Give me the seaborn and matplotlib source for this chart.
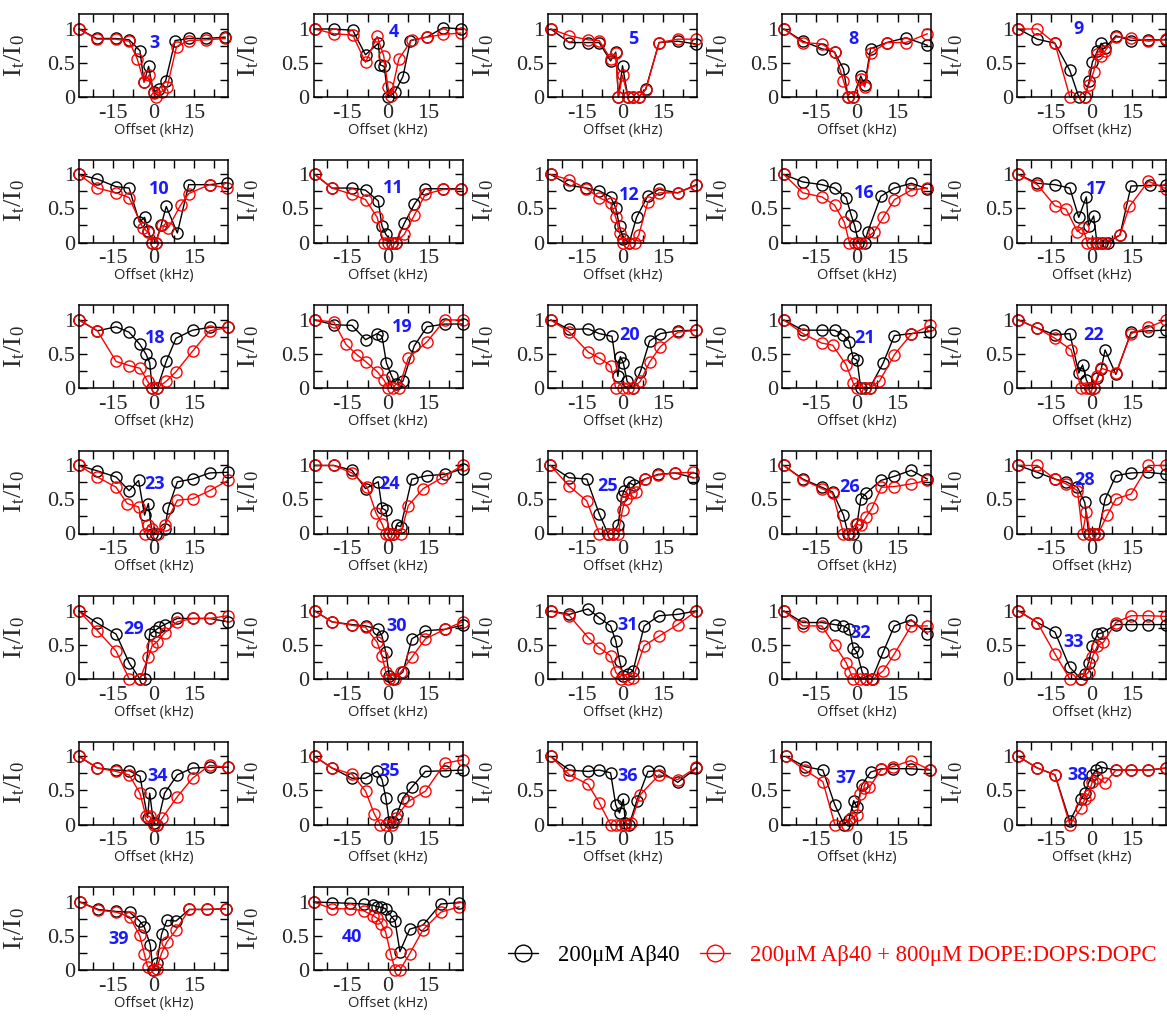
import matplotlib
matplotlib.use("Agg")
import matplotlib.pyplot as plt
from matplotlib.ticker import MultipleLocator, FuncFormatter
from matplotlib.lines import Line2D
import seaborn as sns
import pandas as pd

# ---------------- data (offset in kHz, I_t/I_0) ----------------
x3k = [-27.5, -21, -14, -9, -5, -3.5, -1.8, 0, 2, 4.5, 8, 13, 19.5, 26.5]
y3k = [1.0, 0.86, 0.86, 0.84, 0.68, 0.22, 0.45, 0.07, 0.12, 0.24, 0.83, 0.86, 0.86, 0.88]
x3r = [-27.5, -21, -14, -9, -6, -3.5, -1.5, 0, 1, 3, 5, 8.5, 13, 19.5, 26.5]
y3r = [1.0, 0.85, 0.85, 0.82, 0.56, 0.22, 0.33, 0.06, 0.0, 0.08, 0.14, 0.74, 0.83, 0.84, 0.86]

x4k = [-27, -20, -13, -8.3, -3.6, -2.8, -1.4, 0, 2.5, 5.5, 8.3, 14.4, 20.4, 27]
y4k = [1.0, 1.0, 0.98, 0.62, 0.79, 0.47, 0.45, 0.0, 0.07, 0.30, 0.83, 0.88, 1.02, 1.0]
x4r = [-27, -20, -13, -8.3, -4, -1.6, 0, 1.1, 4, 8.8, 14.4, 20.4, 27]
y4r = [1.0, 0.93, 0.91, 0.51, 0.89, 0.61, 0.14, 0.02, 0.56, 0.84, 0.88, 0.92, 0.94]

x5k = [-26.5, -19.6, -12.7, -8.6, -4.4, -2.5, -1.5, 0, 2, 4, 6, 8.6, 13.5, 20.4, 27]
y5k = [1.0, 0.8, 0.8, 0.8, 0.53, 0.66, 0.0, 0.46, 0.0, 0.0, 0.0, 0.12, 0.8, 0.82, 0.78]
x5r = [-26.5, -19.6, -12.7, -8.6, -4.4, -2.5, -1.5, 0, 2, 4, 6, 8.6, 13.5, 20.4, 27]
y5r = [1.0, 0.9, 0.84, 0.83, 0.56, 0.64, 0.0, 0.32, 0.0, 0.0, 0.0, 0.11, 0.8, 0.85, 0.85]

x8k = [-27, -20, -13, -8.3, -5, -3.3, -1.4, 1.4, 2.8, 5, 11, 18, 26]
y8k = [1.0, 0.82, 0.71, 0.66, 0.41, 0.0, 0.0, 0.31, 0.17, 0.71, 0.8, 0.87, 0.76]
x8r = [-27, -20, -13, -8.3, -5, -3.3, -1.4, 1.4, 2.8, 5, 11, 18, 26]
y8r = [1.0, 0.8, 0.78, 0.66, 0.24, 0.0, 0.0, 0.26, 0.15, 0.64, 0.8, 0.8, 0.93]

x9k = [-27, -20, -13.5, -8, -4.7, -2.5, -0.8, 0.3, 2.2, 3.6, 5, 9, 14.6, 21, 27.5]
y9k = [1.0, 0.85, 0.79, 0.39, 0.0, 0.0, 0.24, 0.51, 0.68, 0.79, 0.72, 0.9, 0.83, 0.84, 0.84]
x9r = [-27, -20, -13.5, -8, -2.5, -1.1, 0.8, 2.2, 3.6, 5, 9, 14.6, 21, 27.5]
y9r = [1.0, 1.0, 0.79, 0.0, 0.0, 0.17, 0.37, 0.63, 0.61, 0.68, 0.88, 0.87, 0.82, 0.85]

x10k = [-27.5, -20.7, -13.8, -9, -5.2, -3.3, -1.9, -0.5, 0.8, 2.8, 4.7, 8.8, 13, 20.7, 27]
y10k = [1.0, 0.93, 0.82, 0.8, 0.3, 0.37, 0.17, 0.0, 0.0, 0.25, 0.53, 0.14, 0.85, 0.85, 0.88]
x10r = [-27.5, -20.7, -13.8, -9, -4, -2, -0.5, 0.8, 3, 5.5, 10, 13, 20.7, 27]
y10r = [1.0, 0.8, 0.73, 0.66, 0.22, 0.15, 0.0, 0.0, 0.25, 0.22, 0.55, 0.72, 0.85, 0.8]

x11k = [-27, -20.7, -13.3, -8.3, -3.6, -2.2, -0.8, 1.4, 2.8, 6, 9.7, 13.8, 20.4, 27]
y11k = [1.0, 0.8, 0.8, 0.77, 0.61, 0.24, 0.12, 0.0, 0.0, 0.28, 0.56, 0.79, 0.79, 0.79]
x11r = [-27, -20.7, -13.3, -8.3, -4, -1.6, 0, 1.4, 2.8, 6, 9.7, 13.8, 20.4, 27]
y11r = [1.0, 0.8, 0.71, 0.63, 0.37, 0.0, 0.0, 0.0, 0.0, 0.12, 0.4, 0.71, 0.78, 0.78]

x12k = [-26.5, -19.6, -13.3, -8.6, -4.4, -2.5, -1.1, 0.3, 2.5, 5.2, 9.4, 13.5, 20.4, 27.3]
y12k = [1.0, 0.84, 0.8, 0.76, 0.67, 0.51, 0.24, 0.05, 0.0, 0.37, 0.69, 0.78, 0.73, 0.85]
x12r = [-26.5, -19.6, -13.3, -8.6, -4.4, -2.5, -1.1, 0.3, 2.5, 4.5, 6, 9.4, 13.5, 20.4, 27.3]
y12r = [1.0, 0.92, 0.79, 0.66, 0.58, 0.37, 0.14, 0.0, 0.0, 0.0, 0.11, 0.6, 0.73, 0.73, 0.84]

x16k = [-27, -20, -13, -8.3, -4, -2.2, -0.8, 0.5, 2.8, 4, 8.8, 13.8, 20, 26]
y16k = [1.0, 0.89, 0.85, 0.8, 0.66, 0.41, 0.24, 0.0, 0.0, 0.16, 0.68, 0.8, 0.87, 0.79]
x16r = [-27, -20, -13, -8.3, -4.7, -2.8, -0.8, 1.4, 6.4, 9.7, 13.8, 20, 26]
y16r = [1.0, 0.73, 0.67, 0.55, 0.3, 0.0, 0.0, 0.0, 0.16, 0.37, 0.63, 0.77, 0.8]

x17k = [-27, -20, -13.5, -8, -4.7, -1.9, -1.1, 0.8, 2, 4, 6, 10.5, 14.6, 21.5, 27.5]
y17k = [1.0, 0.87, 0.85, 0.8, 0.37, 0.67, 0.24, 0.39, 0.0, 0.0, 0.0, 0.11, 0.83, 0.84, 0.84]
x17r = [-27, -20, -13.5, -9.4, -5.2, -3.3, -1.5, 0, 1.5, 3, 5, 10.5, 14, 21, 27.5]
y17r = [1.0, 0.85, 0.54, 0.49, 0.16, 0.22, 0.0, 0.0, 0.0, 0.0, 0.0, 0.11, 0.53, 0.9, 0.79]

x18k = [-27.5, -20.7, -13.8, -9, -5, -2.8, -1.4, -0.5, 1.4, 4.7, 8.3, 14.4, 20.7, 27.5]
y18k = [1.0, 0.84, 0.9, 0.82, 0.64, 0.5, 0.37, 0.0, 0.0, 0.39, 0.73, 0.85, 0.89, 0.89]
x18r = [-27.5, -20.7, -13.8, -9, -5, -2.2, -0.5, 1.4, 4.7, 8.3, 14.4, 20.7, 27.5]
y18r = [1.0, 0.84, 0.39, 0.33, 0.29, 0.1, 0.0, 0.0, 0.1, 0.24, 0.54, 0.84, 0.89]

x19k = [-27, -20, -13.3, -8.3, -4, -2.2, -0.6, 1.4, 2.8, 5.5, 9.7, 14.4, 21, 27.5]
y19k = [1.0, 0.93, 0.92, 0.71, 0.8, 0.76, 0.37, 0.17, 0.06, 0.1, 0.62, 0.9, 0.94, 0.94]
x19r = [-27, -20, -15.5, -11.5, -8, -4, -1.5, 0, 2, 4, 7.5, 14.4, 21, 27.5]
y19r = [1.0, 0.97, 0.64, 0.49, 0.38, 0.24, 0.12, 0.0, 0.0, 0.0, 0.44, 0.68, 1.0, 1.0]

x20k = [-26.5, -19.6, -12.7, -8.6, -3.9, -1.7, -0.8, 0.3, 1.7, 3.9, 6.6, 10, 14, 20.4, 27.3]
y20k = [1.0, 0.86, 0.87, 0.8, 0.76, 0.17, 0.46, 0.37, 0.1, 0.0, 0.24, 0.69, 0.8, 0.84, 0.85]
x20r = [-26.5, -19.6, -12.7, -8.6, -4.4, -2.5, 0, 2, 3.9, 6.6, 10, 14, 20.4, 27.3]
y20r = [1.0, 0.82, 0.53, 0.44, 0.33, 0.0, 0.0, 0.0, 0.0, 0.1, 0.38, 0.61, 0.82, 0.85]

x21k = [-27, -20, -13, -8.3, -5, -2.8, -1.4, 0, 1.4, 2.8, 4.7, 9.7, 13.8, 20, 27]
y21k = [1.0, 0.85, 0.85, 0.85, 0.78, 0.68, 0.44, 0.41, 0.0, 0.0, 0.0, 0.37, 0.77, 0.8, 0.83]
x21r = [-27, -20, -13, -9, -4, -1.4, 0, 2.8, 4.7, 8.3, 13.8, 20, 27]
y21r = [1.0, 0.8, 0.66, 0.63, 0.34, 0.07, 0.0, 0.0, 0.0, 0.1, 0.49, 0.79, 0.92]

x22k = [-27, -20, -13.5, -8, -4.7, -3.3, -1.9, -0.5, 0.8, 2.2, 3.6, 5, 9, 14.6, 21, 27.5]
y22k = [1.0, 0.88, 0.78, 0.8, 0.22, 0.34, 0.12, 0.0, 0.0, 0.14, 0.28, 0.56, 0.2, 0.82, 0.84, 0.85]
x22r = [-27, -20, -13.5, -7.5, -3.9, -1.9, -0.5, 0.8, 2.2, 3.6, 9, 14.6, 21, 27.5]
y22r = [1.0, 0.88, 0.73, 0.56, 0.0, 0.0, 0.0, 0.0, 0.17, 0.29, 0.22, 0.8, 0.89, 1.0]

x23k = [-27.5, -20.7, -13.8, -9, -5.5, -3.3, -1.9, -0.5, 0.8, 4.1, 5.5, 8.8, 14.4, 20.7, 27.5]
y23k = [1.0, 0.92, 0.83, 0.63, 0.78, 0.27, 0.44, 0.0, 0.0, 0.07, 0.38, 0.76, 0.8, 0.89, 0.9]
x23r = [-27.5, -20.7, -13.8, -9.7, -5.5, -3.3, -1.9, -0.5, 1.5, 4.1, 8.8, 14.4, 20.7, 27.5]
y23r = [1.0, 0.83, 0.68, 0.44, 0.39, 0.0, 0.12, 0.07, 0.0, 0.12, 0.49, 0.51, 0.63, 0.78]

x24k = [-27, -20, -13.3, -8.3, -3.6, -2.2, -0.8, 0.5, 2, 3.3, 4.7, 8.8, 14.4, 21, 27.5]
y24k = [1.0, 1.0, 0.93, 0.66, 0.76, 0.37, 0.34, 0.0, 0.0, 0.12, 0.1, 0.8, 0.85, 0.87, 0.95]
x24r = [-27, -20, -13.3, -7.7, -4.4, -2.2, -0.8, 0.5, 2, 4.7, 7.5, 13, 20, 27.5]
y24r = [1.0, 1.0, 0.89, 0.68, 0.3, 0.14, 0.0, 0.0, 0.0, 0.0, 0.41, 0.66, 0.82, 1.0]

x25k = [-26.6, -19.8, -13.2, -8.6, -5.4, -3.6, -1.6, -0.2, 0.6, 2.4, 4.2, 8.2, 13.2, 19.4, 26.2]
y25k = [1.0, 0.82, 0.8, 0.29, 0.0, 0.0, 0.13, 0.55, 0.63, 0.75, 0.71, 0.8, 0.87, 0.89, 0.82]
x25r = [-26.6, -19.8, -13.2, -8.6, -5.4, -3.6, -1.6, 0, 1.2, 3, 4.8, 8.2, 13.2, 19.4, 26.2]
y25r = [1.0, 0.7, 0.48, 0.0, 0.0, 0.0, 0.0, 0.35, 0.51, 0.59, 0.61, 0.8, 0.86, 0.89, 0.9]

x26k = [-27, -20, -13, -9, -5, -3.3, -1.4, 0, 1.4, 3.3, 8.8, 13.8, 20, 26]
y26k = [1.0, 0.8, 0.68, 0.61, 0.27, 0.0, 0.0, 0.14, 0.51, 0.59, 0.78, 0.84, 0.93, 0.8]
x26r = [-27, -20, -13, -9, -5, -2.8, -0.5, 1.4, 3.3, 5.5, 9, 13.8, 20, 26]
y26r = [1.0, 0.79, 0.66, 0.59, 0.0, 0.0, 0.14, 0.12, 0.24, 0.37, 0.68, 0.69, 0.73, 0.78]

x28k = [-27, -20, -13.5, -9.4, -5.2, -2.5, -1, 0.8, 2.5, 5, 9, 14.6, 21, 27.5]
y28k = [1.0, 0.9, 0.8, 0.76, 0.68, 0.46, 0.0, 0.0, 0.0, 0.5, 0.85, 0.89, 0.9, 0.87]
x28r = [-27, -20, -13.5, -9.4, -5.2, -3.3, -1.9, -0.5, 1, 2.5, 5.8, 9, 14.6, 21, 27.5]
y28r = [1.0, 1.0, 0.8, 0.73, 0.63, 0.0, 0.32, 0.0, 0.0, 0.0, 0.27, 0.51, 0.58, 1.0, 1.0]

x29k = [-27.5, -20.7, -13.8, -9, -5, -3.3, -1.4, 0.5, 2.2, 4.1, 8.8, 14.4, 20.7, 27.5]
y29k = [1.0, 0.82, 0.66, 0.24, 0.0, 0.0, 0.66, 0.71, 0.76, 0.8, 0.89, 0.89, 0.89, 0.84]
x29r = [-27.5, -20.7, -13.8, -9, -5, -1.9, -0.5, 1.4, 4.1, 8.8, 14.4, 20.7, 27.5]
y29r = [1.0, 0.71, 0.41, 0.0, 0.0, 0.32, 0.49, 0.55, 0.68, 0.84, 0.89, 0.89, 0.93]

x30k = [-27, -20.7, -13.3, -8.3, -3.6, -2.2, -0.8, 0.5, 1.9, 5.5, 8.8, 13.8, 21, 27.5]
y30k = [1.0, 0.84, 0.8, 0.78, 0.73, 0.63, 0.39, 0.05, 0.0, 0.1, 0.59, 0.71, 0.73, 0.79]
x30r = [-27, -20.7, -13.3, -8.3, -4, -2.2, -0.8, 0.5, 2.5, 4.7, 8.8, 13.8, 21, 27.5]
y30r = [1.0, 0.84, 0.79, 0.76, 0.54, 0.34, 0.1, 0.0, 0.0, 0.1, 0.32, 0.59, 0.73, 0.84]

x31k = [-26.5, -19.6, -12.7, -8.6, -4.4, -2.5, -1.1, 0.3, 1.9, 3.9, 8, 13.5, 20.4, 27.3]
y31k = [1.0, 0.95, 1.03, 0.9, 0.78, 0.56, 0.27, 0.05, 0.07, 0.12, 0.78, 0.93, 0.95, 1.0]
x31r = [-26.5, -19.6, -12.7, -8.6, -4.4, -2.5, -0.5, 1.9, 3.9, 8, 13.5, 20.4, 27.3]
y31r = [1.0, 0.93, 0.61, 0.46, 0.34, 0.1, 0.0, 0.0, 0.02, 0.49, 0.63, 0.8, 1.0]

x32k = [-27, -20, -13, -8.3, -5, -2.8, -1.4, 0, 1.9, 3.5, 5.5, 9.7, 13.8, 20, 26]
y32k = [1.0, 0.83, 0.83, 0.8, 0.78, 0.73, 0.46, 0.39, 0.1, 0.0, 0.0, 0.4, 0.78, 0.87, 0.66]
x32r = [-27, -20, -13, -8.3, -4, -2.5, -1.4, 1, 3.5, 6, 9.7, 13.8, 20, 26]
y32r = [1.0, 0.78, 0.78, 0.5, 0.24, 0.1, 0.0, 0.0, 0.0, 0.0, 0.12, 0.37, 0.78, 0.78]

x33k = [-27, -20, -13.5, -8, -3.9, -2.5, -1.1, 0.3, 2.2, 4, 9, 14.6, 21, 27.5]
y33k = [1.0, 0.83, 0.69, 0.17, 0.0, 0.07, 0.24, 0.49, 0.66, 0.68, 0.8, 0.8, 0.8, 0.8]
x33r = [-27, -20, -13.5, -8, -3.9, -1.1, 0.3, 2.2, 4.4, 9, 14.6, 21, 27.5]
y33r = [1.0, 0.83, 0.37, 0.0, 0.0, 0.1, 0.32, 0.49, 0.54, 0.83, 0.93, 0.93, 0.92]

x34k = [-27.5, -20.7, -13.8, -9, -5, -2.2, -1.4, 0, 1.4, 4.1, 8.8, 14.4, 20.7, 27.5]
y34k = [1.0, 0.83, 0.8, 0.79, 0.71, 0.1, 0.46, 0.02, 0.0, 0.46, 0.73, 0.83, 0.84, 0.84]
x34r = [-27.5, -20.7, -13.8, -9, -5, -2.8, -1.4, 0, 1.4, 3.3, 8.8, 14.4, 20.7, 27.5]
y34r = [1.0, 0.83, 0.78, 0.73, 0.46, 0.12, 0.12, 0.0, 0.0, 0.1, 0.41, 0.68, 0.87, 0.84]

x35k = [-27, -20.7, -13.3, -8.3, -4, -2.2, -0.8, 0.5, 2, 3.3, 5.5, 8.8, 13.8, 21, 27.5]
y35k = [1.0, 0.83, 0.68, 0.68, 0.78, 0.66, 0.39, 0.03, 0.03, 0.15, 0.39, 0.55, 0.78, 0.79, 0.8]
x35r = [-27, -20.7, -13.3, -8.3, -5, -2.8, -0.8, 1.4, 2.8, 7.5, 13.8, 21, 27.5]
y35r = [1.0, 0.83, 0.74, 0.49, 0.15, 0.0, 0.0, 0.0, 0.1, 0.34, 0.49, 0.9, 0.95]

x36k = [-26.5, -19.6, -12.7, -8.6, -4.4, -2.5, -1.1, 0.3, 1.1, 2.5, 5.2, 9.4, 13.5, 20.4, 27.3]
y36k = [1.0, 0.8, 0.78, 0.8, 0.76, 0.29, 0.17, 0.37, 0.02, 0.0, 0.34, 0.78, 0.79, 0.62, 0.83]
x36r = [-26.5, -19.6, -12.7, -8.6, -4.4, -2.5, -0.5, 1.1, 3, 6.6, 13.5, 20.4, 27.3]
y36r = [1.0, 0.73, 0.59, 0.32, 0.0, 0.0, 0.0, 0.0, 0.02, 0.44, 0.73, 0.66, 0.84]

x37k = [-26.2, -19.2, -12.6, -8.2, -4.8, -3, -1.2, 0, 1.8, 5, 9, 13.2, 19.8, 27]
y37k = [1.0, 0.85, 0.8, 0.29, 0.0, 0.07, 0.35, 0.25, 0.58, 0.77, 0.82, 0.82, 0.82, 0.8]
x37r = [-26.2, -19.2, -12.6, -8.2, -3.6, -2.2, 0, 1.2, 2.6, 4.6, 9, 13.2, 19.8, 27]
y37r = [1.0, 0.8, 0.63, 0.0, 0.0, 0.09, 0.14, 0.45, 0.53, 0.55, 0.81, 0.85, 0.94, 0.8]

x38k = [-27, -20, -13.5, -8, -3.9, -2.5, -1.1, 0.3, 1.7, 3.6, 9, 14.6, 21, 27.5]
y38k = [1.0, 0.83, 0.73, 0.05, 0.37, 0.46, 0.61, 0.73, 0.8, 0.84, 0.8, 0.8, 0.8, 0.83]
x38r = [-27, -20, -13.5, -8, -3.9, -2.5, -1.1, 0.3, 2.2, 5, 9, 14.6, 21, 27.5]
y38r = [1.0, 0.83, 0.73, 0.0, 0.24, 0.37, 0.44, 0.63, 0.69, 0.61, 0.8, 0.8, 0.8, 0.83]

x39k = [-27.2, -20.4, -13.7, -8.8, -5.1, -3.4, -1.2, -0.2, 1.2, 3, 4.9, 8.3, 13.2, 19.8, 26.6]
y39k = [1.0, 0.89, 0.86, 0.85, 0.72, 0.63, 0.37, 0.0, 0.1, 0.53, 0.73, 0.72, 0.89, 0.89, 0.9]
x39r = [-27.2, -20.4, -13.7, -8.8, -5.1, -3.4, -2.2, 0, 1.2, 3, 4.9, 8.3, 13.2, 19.8, 26.6]
y39r = [1.0, 0.88, 0.85, 0.78, 0.51, 0.24, 0.05, 0.0, 0.02, 0.25, 0.41, 0.59, 0.89, 0.89, 0.9]

x40k = [-27.5, -20.7, -14, -9, -5.5, -3.9, -2.4, -0.9, 1, 2.6, 4.4, 8, 12.9, 19.5, 26.3]
y40k = [1.0, 0.99, 0.98, 0.97, 0.95, 0.93, 0.92, 0.9, 0.8, 0.72, 0.27, 0.6, 0.66, 0.97, 0.99]
x40r = [-27.5, -20.7, -14, -9, -5.5, -3.9, -2.4, -0.9, 1, 2.6, 4.4, 8, 12.9, 19.5, 26.3]
y40r = [1.0, 0.9, 0.9, 0.87, 0.8, 0.76, 0.68, 0.56, 0.24, 0.0, 0.0, 0.24, 0.59, 0.85, 0.93]

residues = [3, 4, 5, 8, 9, 10, 11, 12, 16, 17, 18, 19, 20, 21, 22, 23, 24, 25, 26,
            28, 29, 30, 31, 32, 33, 34, 35, 36, 37, 38, 39, 40]
series_names = ["200\u03bcM A\u03b240", "200\u03bcM A\u03b240 + 800\u03bcM DOPE:DOPS:DOPC"]
series_colors = ["black", "red"]
x_ticks = [-15, 0, 15]

# label placement for residue numbers (data coordinates)
label_pos = {3: (0.5, 0.8), 4: (2, 0.95), 5: (3.9, 0.85), 8: (-1.4, 0.85), 9: (-4.7, 1.0),
             10: (2, 0.78), 11: (2, 0.8), 12: (2.5, 0.7), 16: (2.8, 0.73), 17: (1.7, 0.78),
             18: (0.5, 0.73), 19: (5.2, 0.9), 20: (2.5, 0.78), 21: (2.8, 0.73), 22: (0.8, 0.78),
             23: (0.5, 0.73), 24: (0.5, 0.73), 25: (-5.4, 0.7), 26: (-2.8, 0.68), 28: (-2.5, 0.78),
             29: (-7.5, 0.73), 30: (3.3, 0.78), 31: (1.9, 0.8), 32: (1.4, 0.68), 33: (-6.6, 0.54),
             34: (1.4, 0.71), 35: (0.5, 0.78), 36: (1.9, 0.71), 37: (-4.2, 0.68), 38: (-5.2, 0.73),
             39: (-12.8, 0.46), 40: (-13.4, 0.48)}

data = {r: (globals()[f"x{r}k"], globals()[f"y{r}k"], globals()[f"x{r}r"], globals()[f"y{r}r"])
        for r in residues}

# ---------------- figure ----------------
sns.set_style("ticks")
plt.rcParams["axes.unicode_minus"] = False
plt.rcParams["mathtext.fontset"] = "stix"
SERIF = "Liberation Serif"

W, H = 1167, 1025
fig = plt.figure(figsize=(W / 100, H / 100), dpi=100)

col_left = [79 + 234.5 * c for c in range(5)]
row_bottom = [97 + 145.5 * r for r in range(7)]
aw, ah = 149, 83

for i, r in enumerate(residues):
    row, col = divmod(i, 5)
    left = col_left[col]
    bottom_px = row_bottom[row]
    ax = fig.add_axes([left / W, 1 - bottom_px / H, aw / W, ah / H])
    xk, yk, xr, yr = data[r]
    for xs, ys, c, nm in [(xk, yk, series_colors[0], series_names[0]),
                          (xr, yr, series_colors[1], series_names[1])]:
        df = pd.DataFrame({"x": xs, "y": ys})
        sns.lineplot(data=df, x="x", y="y", ax=ax, color=c, marker="o",
                     markersize=8, markerfacecolor="none", markeredgecolor=c,
                     markeredgewidth=1.0, linewidth=1.0, sort=False,
                     estimator=None, clip_on=False, label=nm, legend=False)
    ax.set_xlim(-27.5, 27.5)
    ax.set_ylim(0, 1.22)
    ax.xaxis.set_major_locator(MultipleLocator(15))
    ax.xaxis.set_minor_locator(MultipleLocator(7.5))
    ax.yaxis.set_major_locator(MultipleLocator(0.5))
    ax.yaxis.set_minor_locator(MultipleLocator(0.25))
    ax.xaxis.set_major_formatter(FuncFormatter(lambda v, _: f"{v:g}" if round(v) in x_ticks else ""))
    ax.yaxis.set_major_formatter(FuncFormatter(lambda v, _: f"{v:g}"))
    ax.tick_params(which="both", direction="in", top=True, right=True,
                   length=6, width=1.0, color="black")
    ax.tick_params(axis="x", which="major", pad=5)
    ax.tick_params(axis="y", which="major", pad=3)
    for lab in ax.get_xticklabels() + ax.get_yticklabels():
        lab.set_fontfamily(SERIF)
        lab.set_fontsize(16)
    for s in ax.spines.values():
        s.set_linewidth(1.1)
        s.set_color("black")
    ax.set_xlabel("Offset (kHz)", fontfamily="Open Sans", fontsize=10.5)
    ax.set_ylabel("I$_\\mathregular{t}$/I$_\\mathregular{0}$", fontfamily=SERIF, fontsize=19)
    ax.xaxis.set_label_coords(0.5, -0.31)
    ax.yaxis.set_label_coords(-0.35, 0.5)
    lx, ly = label_pos[r]
    ax.text(lx, ly, str(r), color="#1a1aff", fontsize=13, fontweight="bold",
            fontfamily="Open Sans", ha="center", va="center")

handles = [Line2D([], [], color=c, marker="o", markersize=12, markerfacecolor="none",
                  markeredgecolor=c, markeredgewidth=1.0, linewidth=1.0)
           for c in series_colors]
leg = fig.legend(handles, series_names, loc="center left",
                 bbox_to_anchor=(488 / W, 1 - 955 / H), ncol=2, frameon=False,
                 prop={"family": SERIF, "size": 16.3}, handlelength=1.3,
                 handletextpad=0.9, columnspacing=0.9)
for t, c in zip(leg.get_texts(), series_colors):
    t.set_color(c)

fig.savefig("out.png", dpi=100)
